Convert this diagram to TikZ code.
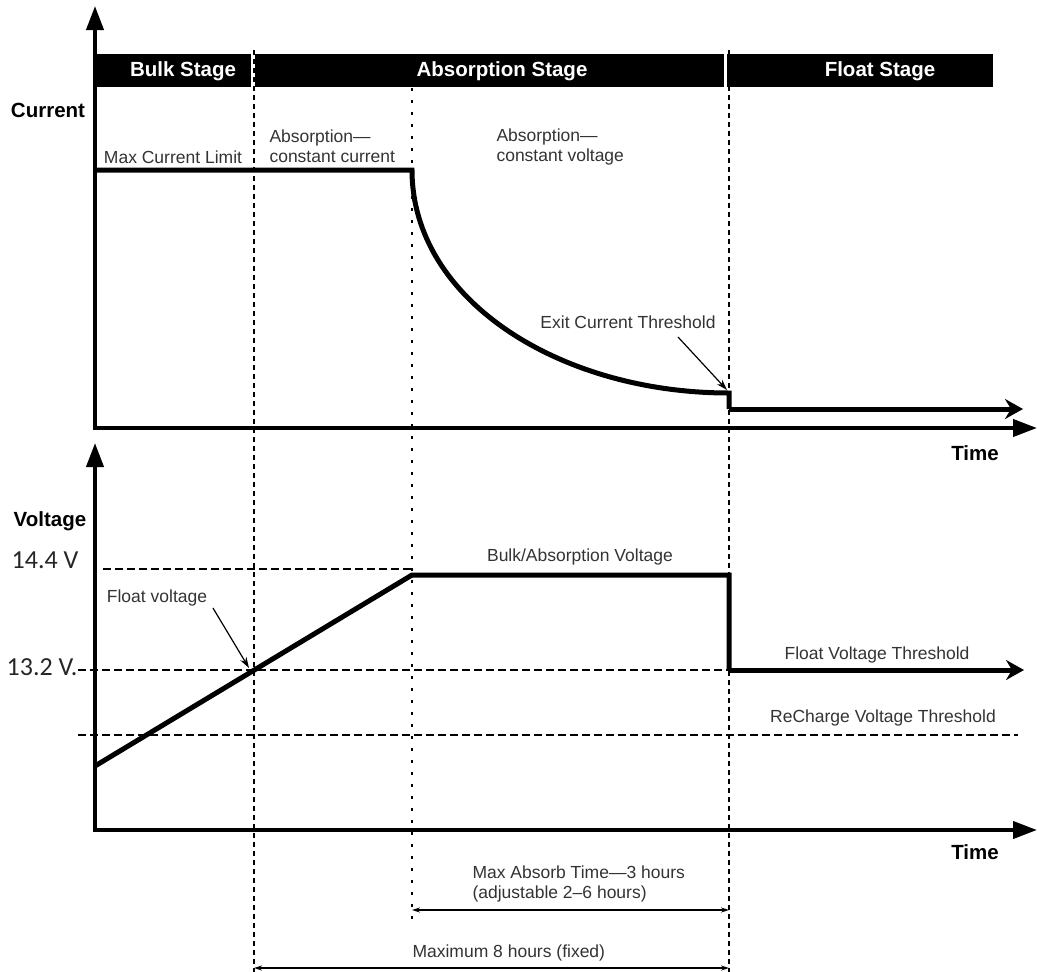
\documentclass[tikz,border=0pt]{standalone}
\usepackage{fontspec}
\setmainfont{Liberation Sans}
\newfontfamily\calfont{Carlito}
\usetikzlibrary{arrows.meta}

\tikzset{
  axis/.style={line width=4pt,-{Triangle[length=24pt,width=17pt]}},
  trace/.style={line width=5pt,line join=miter},
  traceend/.style={trace,-{Stealth[length=18pt,width=20pt,inset=6pt]}},
  stagelbl/.style={text=white,font=\fontsize{20.5}{24}\selectfont\bfseries},
  axlbl/.style={font=\fontsize{20.5}{24}\selectfont\bfseries},
  lbl/.style={text=black!80,font=\fontsize{17.5}{20}\selectfont},
  vlbl/.style={text=black!85,font=\calfont\fontsize{26}{30}\selectfont},
  vguide/.style={line width=1.3pt,dash pattern=on 5pt off 4pt},
  hguide/.style={line width=1.3pt,dash pattern=on 8pt off 4pt},
  ptr/.style={line width=1.2pt,-{Stealth[length=11pt,width=7pt]}},
  dim/.style={line width=1.2pt,{Stealth[length=8pt,width=5pt]}-{Stealth[length=8pt,width=5pt]}},
}

\begin{document}
\begin{tikzpicture}[x=1pt,y=-1pt]
\useasboundingbox (0,0) rectangle (1037,972);

\fill (95,54) rectangle (251,87);
\fill (255,54) rectangle (724,87);
\fill (727,54) rectangle (993,87);
\node[stagelbl] (bulk) at (183,71) {Bulk Stage};
\node[stagelbl] (absorb) at (502,71) {Absorption Stage};
\node[stagelbl] (float) at (880,71) {Float Stage};

\draw[vguide] (254,50) -- (254,972);
\draw[vguide] (729,50) -- (729,972);
\draw[line width=1.5pt,dash pattern=on 3pt off 9pt] (412,88) -- (412,925);

\coordinate (o1) at (95,428);
\coordinate (o2) at (95,830);
\draw[axis] (o1) -- (95,6);
\draw[axis] (93,428) -- (1037,428);
\draw[axis] (o2) -- (95,443);
\draw[axis] (93,830) -- (1037,830);

\node[axlbl] (cur) at (48,110) {Current};
\node[axlbl] (volt) at (50,521) {Voltage};
\node[axlbl] (time1) at (975,453) {Time};
\node[axlbl] (time2) at (975,852) {Time};

\node[lbl] (maxcur) at (173,157) {Max Current Limit};
\node[lbl,align=left,anchor=west] (cc) at (266,146) {Absorption---\\constant current};
\node[lbl,align=left,anchor=west] (cv) at (493,147) {Absorption---\\constant voltage};

\draw[trace] (95,170) -- (412,170) .. controls (412,300) and (560,393) .. (729,393) -- (729,409);
\draw[traceend] (729,409) -- (1023,409);

\coordinate (exitpt) at (727,390);
\node[lbl] (exit) at (628,322) {Exit Current Threshold};
\draw[ptr] (678,337) -- (exitpt);

\node[vlbl] (v144) at (45,560) {14.4 V};
\node[vlbl] (v132) at (42,667) {13.2 V.};
\draw[hguide] (103,569) -- (412,569);
\draw[hguide] (78,670) -- (729,670);
\draw[hguide] (78,735) -- (1018,735);

\draw[trace] (95,766) -- (412,575) -- (729,575) -- (729,670);
\draw[traceend] (729,670) -- (1024,670);

\coordinate (floatpt) at (249,668);
\node[lbl] (floatv) at (157,598) {Float voltage};
\draw[ptr] (213,608) -- (floatpt);

\node[lbl] (bulkv) at (580,557) {Bulk/Absorption Voltage};
\node[lbl] (fvt) at (877,655) {Float Voltage Threshold};
\node[lbl] (rvt) at (883,718) {ReCharge Voltage Threshold};

\coordinate (a1) at (412,910);
\coordinate (a2) at (729,910);
\coordinate (b1) at (254,968);
\coordinate (b2) at (729,968);
\node[lbl,align=left,anchor=west] (mat) at (469,884) {Max Absorb Time---3 hours\\(adjustable 2--6 hours)};
\draw[dim] (a1) -- (a2);
\node[lbl,anchor=west] (m8) at (409,953) {Maximum 8 hours (fixed)};
\draw[dim] (b1) -- (b2);

\end{tikzpicture}
\end{document}
